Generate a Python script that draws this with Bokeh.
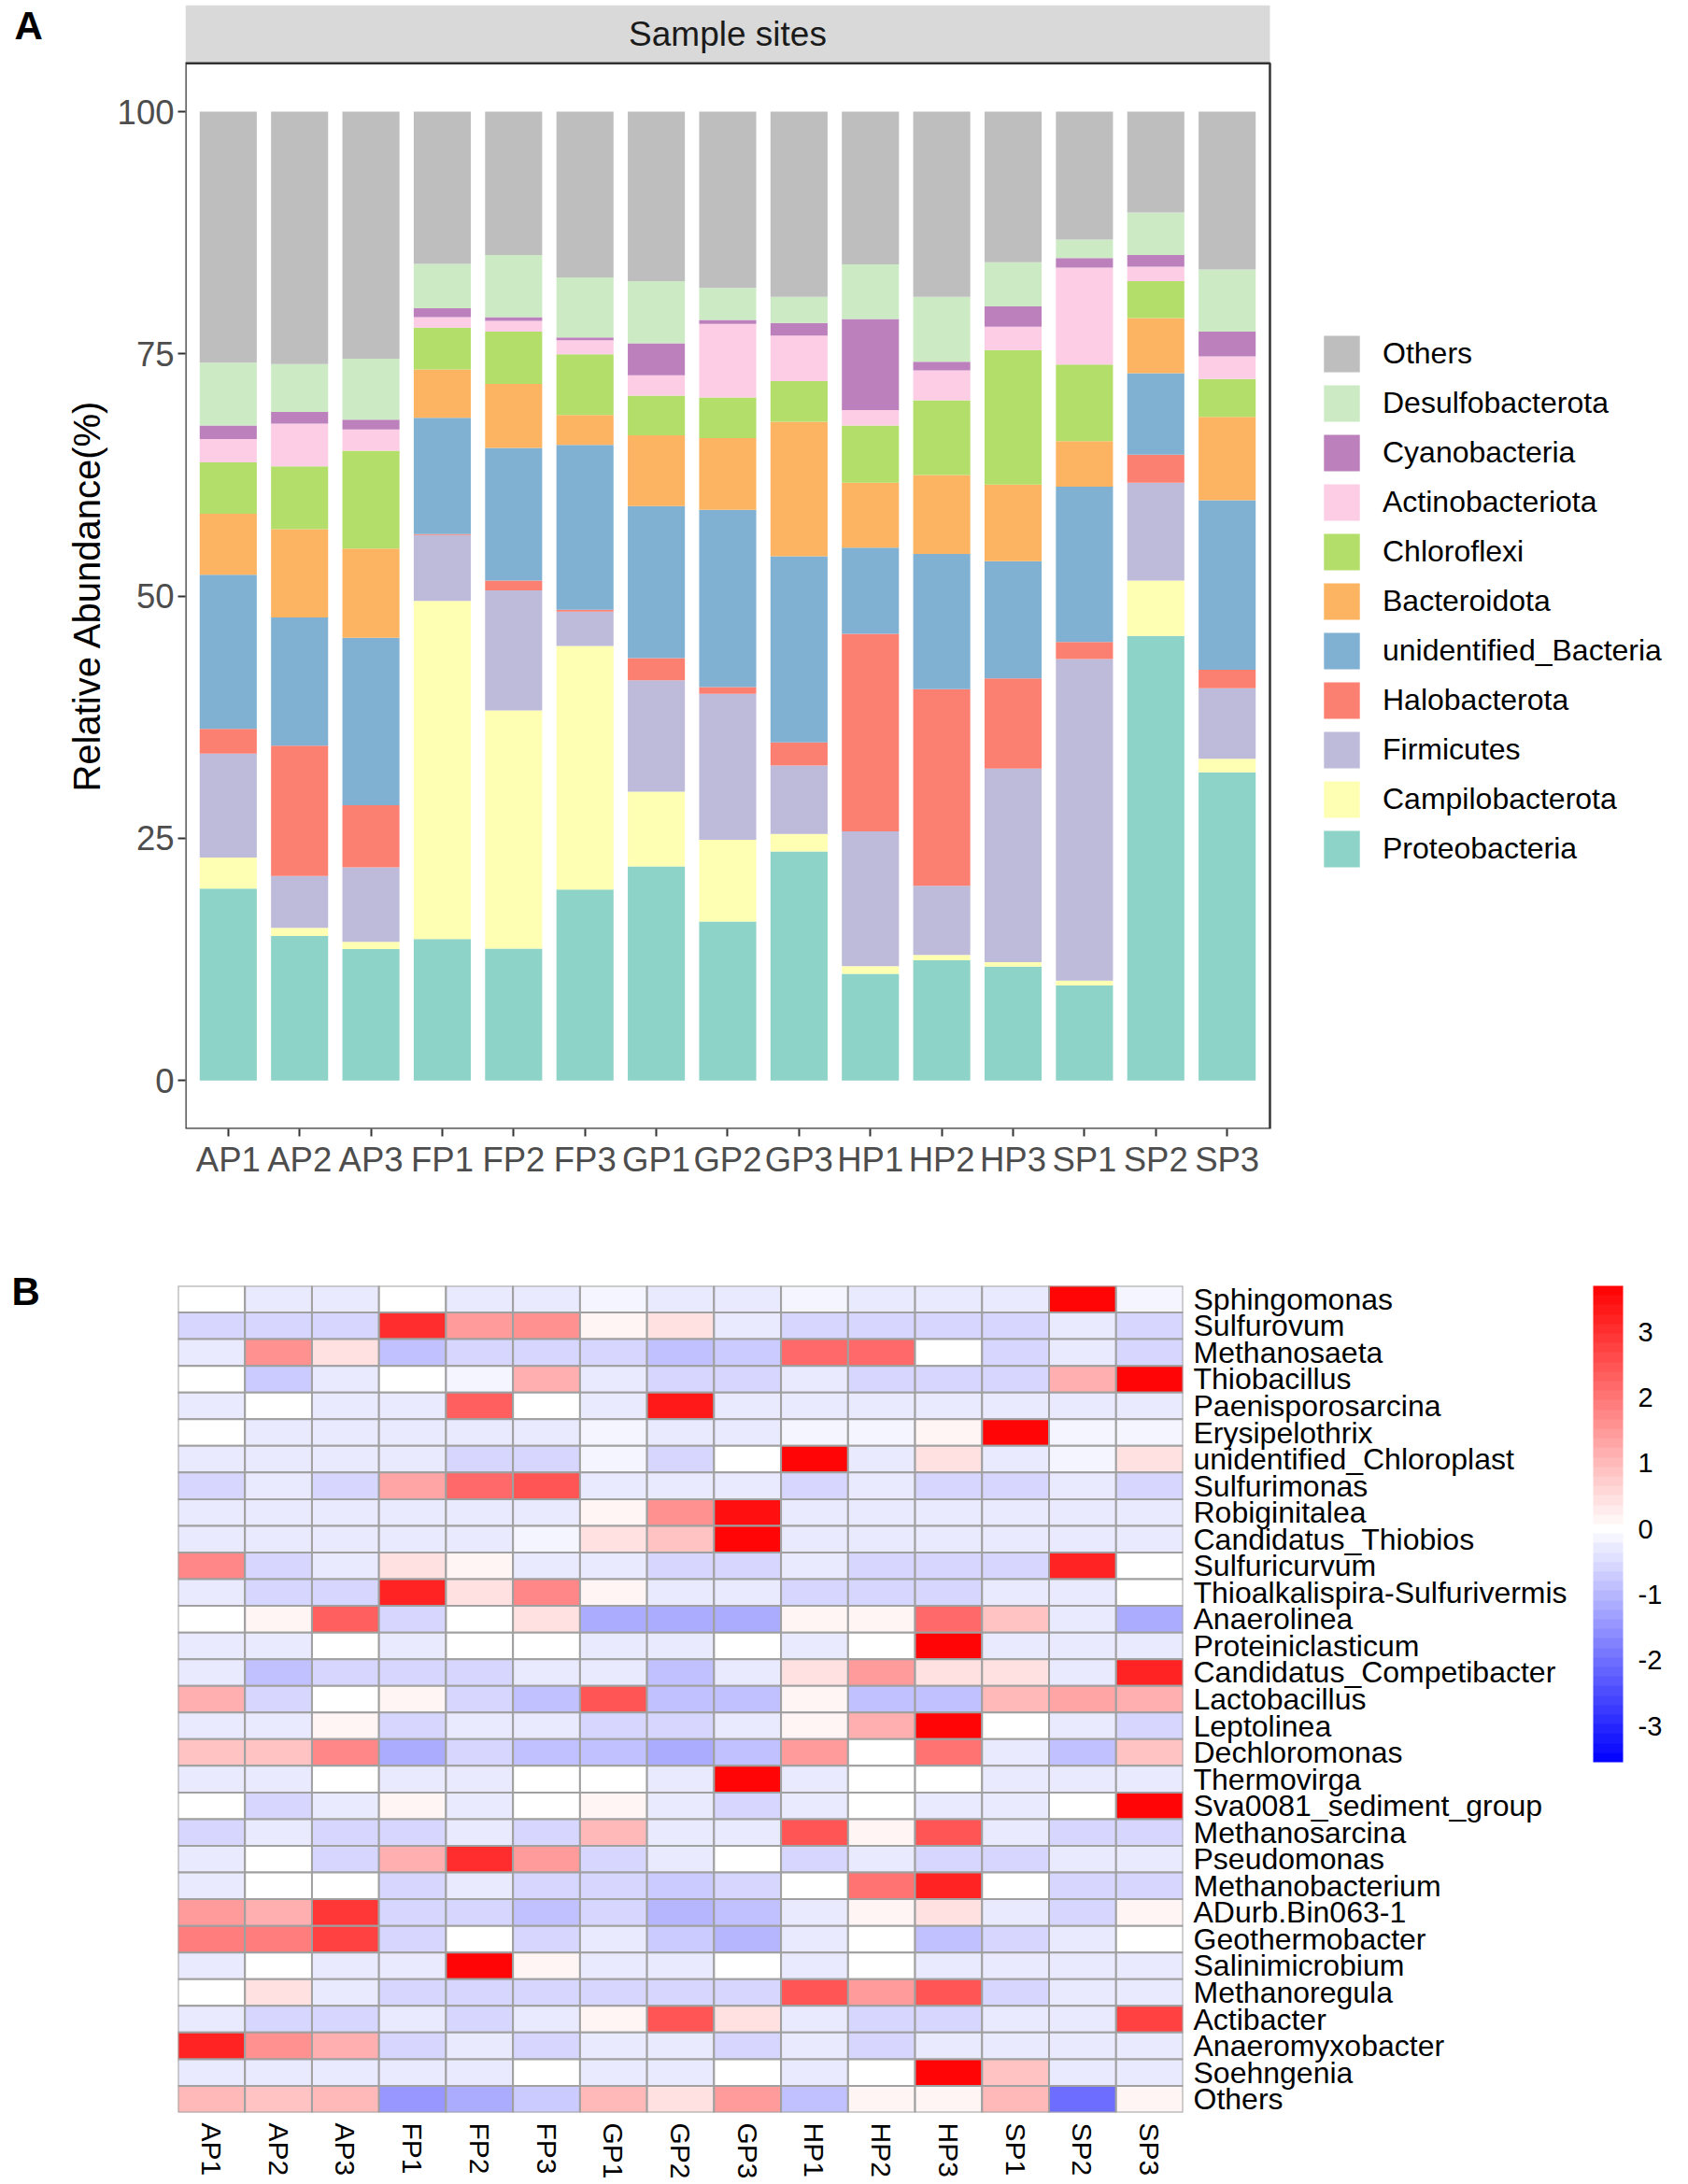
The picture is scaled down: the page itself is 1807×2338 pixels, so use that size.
import math
from bokeh.plotting import figure
from bokeh.models import (Range1d, FixedTicker, Legend, LegendItem, BoxAnnotation, Label,
                          ColorBar, LinearColorMapper, FactorRange, ColumnDataSource)
from bokeh.layouts import column, row
from bokeh.embed import file_html
from bokeh.resources import INLINE

FONT = "Liberation Sans"

# ---------------- Panel A data ----------------
samples = ["AP1", "AP2", "AP3", "FP1", "FP2", "FP3", "GP1", "GP2", "GP3",
           "HP1", "HP2", "HP3", "SP1", "SP2", "SP3"]

phyla = ["Proteobacteria", "Campilobacterota", "Firmicutes", "Halobacterota",
         "unidentified_Bacteria", "Bacteroidota", "Chloroflexi", "Actinobacteriota",
         "Cyanobacteria", "Desulfobacterota", "Others"]

Proteobacteria = [19.8, 14.9, 13.55, 14.6, 13.6, 19.7, 22.1, 16.4, 23.65, 11.0, 12.4, 11.75, 9.8, 45.9, 31.8]
Campilobacterota = [3.2, 0.85, 0.75, 34.9, 24.6, 25.15, 7.7, 8.45, 1.8, 0.8, 0.55, 0.45, 0.5, 5.7, 1.4]
Firmicutes = [10.75, 5.35, 7.7, 6.8, 12.4, 3.55, 11.5, 15.05, 7.05, 13.9, 7.15, 20.0, 33.2, 10.1, 7.3]
Halobacterota = [2.55, 13.45, 6.4, 0.1, 1.0, 0.2, 2.3, 0.7, 2.4, 20.4, 20.3, 9.3, 1.75, 2.9, 1.9]
unidentified_Bacteria = [15.9, 13.25, 17.3, 12.0, 13.7, 17.0, 15.7, 18.3, 19.2, 8.9, 13.95, 12.1, 16.05, 8.4, 17.5]
Bacteroidota = [6.3, 9.1, 9.2, 5.0, 6.6, 3.1, 7.3, 7.4, 13.9, 6.7, 8.15, 7.9, 4.7, 5.7, 8.6]
Chloroflexi = [5.3, 6.5, 10.1, 4.3, 5.4, 6.25, 4.1, 4.2, 4.2, 5.9, 7.7, 13.9, 7.9, 3.8, 3.9]
Actinobacteriota = [2.4, 4.4, 2.2, 1.1, 1.1, 1.45, 2.1, 7.6, 4.7, 1.6, 3.1, 2.4, 10.0, 1.5, 2.35]
Cyanobacteria = [1.4, 1.2, 1.0, 0.9, 0.4, 0.3, 3.3, 0.4, 1.3, 9.4, 0.9, 2.1, 1.0, 1.2, 2.55]
Desulfobacterota = [6.5, 4.95, 6.3, 4.6, 6.4, 6.2, 6.4, 3.3, 2.7, 5.65, 6.7, 4.55, 1.9, 4.4, 6.4]
Others = [25.9, 26.05, 25.5, 15.7, 14.8, 17.1, 17.5, 18.2, 19.1, 15.75, 19.1, 15.55, 13.2, 10.4, 16.3]

phylum_colors = ["#8DD3C7", "#FFFFB3", "#BEBADA", "#FB8072", "#80B1D3", "#FDB462",
                 "#B3DE69", "#FCCDE5", "#BC80BD", "#CCEBC5", "#BEBEBE"]

y_ticks = [0, 25, 50, 75, 100]

# ---------------- Panel B data ----------------
genera = ["Sphingomonas", "Sulfurovum", "Methanosaeta", "Thiobacillus", "Paenisporosarcina",
          "Erysipelothrix", "unidentified_Chloroplast", "Sulfurimonas", "Robiginitalea",
          "Candidatus_Thiobios", "Sulfuricurvum", "Thioalkalispira-Sulfurivermis", "Anaerolinea",
          "Proteiniclasticum", "Candidatus_Competibacter", "Lactobacillus", "Leptolinea",
          "Dechloromonas", "Thermovirga", "Sva0081_sediment_group", "Methanosarcina",
          "Pseudomonas", "Methanobacterium", "ADurb.Bin063-1", "Geothermobacter",
          "Salinimicrobium", "Methanoregula", "Actibacter", "Anaeromyxobacter", "Soehngenia",
          "Others"]

z_Sphingomonas = [-0.05, -0.3, -0.3, -0.05, -0.3, -0.3, -0.1, -0.3, -0.3, -0.1, -0.3, -0.3, -0.3, 3.6, -0.1]
z_Sulfurovum = [-0.6, -0.6, -0.6, 3.1, 1.5, 1.55, 0.2, 0.5, -0.3, -0.6, -0.6, -0.6, -0.6, -0.3, -0.6]
z_Methanosaeta = [-0.3, 1.55, 0.5, -0.85, -0.6, -0.6, -0.6, -0.85, -0.65, 2.2, 2.2, -0.05, -0.6, -0.3, -0.6]
z_Thiobacillus = [-0.05, -0.7, -0.3, -0.05, -0.1, 1.1, -0.3, -0.6, -0.6, -0.3, -0.6, -0.6, -0.6, 1.15, 3.6]
z_Paenisporosarcina = [-0.3, -0.05, -0.3, -0.3, 2.3, -0.05, -0.3, 3.3, -0.3, -0.3, -0.3, -0.3, -0.3, -0.3, -0.3]
z_Erysipelothrix = [-0.05, -0.3, -0.3, -0.3, -0.3, -0.3, -0.1, -0.3, -0.3, -0.1, -0.1, 0.15, 3.6, -0.1, -0.1]
z_unidentified_Chloroplast = [-0.3, -0.3, -0.3, -0.3, -0.6, -0.6, -0.1, -0.6, -0.05, 3.6, -0.3, 0.5, -0.3, -0.1, 0.5]
z_Sulfurimonas = [-0.6, -0.3, -0.6, 1.3, 2.2, 2.5, -0.3, -0.3, -0.3, -0.6, -0.3, -0.6, -0.6, -0.3, -0.6]
z_Robiginitalea = [-0.3, -0.3, -0.3, -0.3, -0.3, -0.3, 0.15, 1.55, 3.5, -0.3, -0.3, -0.3, -0.3, -0.3, -0.3]
z_Candidatus_Thiobios = [-0.3, -0.3, -0.3, -0.3, -0.3, -0.1, 0.5, 0.85, 3.6, -0.3, -0.3, -0.3, -0.3, -0.3, -0.3]
z_Sulfuricurvum = [1.7, -0.6, -0.3, 0.5, 0.2, -0.3, -0.3, -0.6, -0.6, -0.3, -0.6, -0.6, -0.6, 3.2, -0.05]
z_Thioalkalispira = [-0.3, -0.6, -0.6, 3.2, 0.5, 1.7, 0.2, -0.3, -0.3, -0.6, -0.6, -0.6, -0.3, -0.3, -0.05]
z_Anaerolinea = [-0.05, 0.2, 2.3, -0.6, -0.05, 0.5, -1.1, -1.1, -1.1, 0.2, 0.2, 2.2, 0.85, -0.3, -1.1]
z_Proteiniclasticum = [-0.3, -0.3, -0.05, -0.3, -0.05, -0.05, -0.3, -0.3, -0.05, -0.3, -0.05, 3.6, -0.3, -0.3, -0.3]
z_Candidatus_Competibacter = [-0.3, -0.85, -0.6, -0.6, -0.6, -0.3, -0.3, -0.85, -0.3, 0.5, 1.45, 0.5, 0.5, -0.3, 3.2]
z_Lactobacillus = [1.2, -0.6, -0.05, 0.15, -0.6, -0.85, 2.5, -0.85, -0.85, 0.15, -0.85, -0.85, 1.0, 1.3, 1.1]
z_Leptolinea = [-0.3, -0.3, 0.15, -0.6, -0.3, -0.3, -0.6, -0.6, -0.3, 0.15, 1.1, 3.6, -0.05, -0.3, -0.6]
z_Dechloromonas = [0.8, 0.8, 1.7, -1.15, -0.6, -0.85, -0.85, -1.1, -0.85, 1.45, -0.05, 2.0, -0.3, -0.85, 0.85]
z_Thermovirga = [-0.3, -0.3, -0.05, -0.3, -0.3, -0.05, -0.05, -0.3, 3.6, -0.3, -0.05, -0.05, -0.3, -0.3, -0.3]
z_Sva0081 = [-0.05, -0.6, -0.3, 0.15, -0.3, -0.05, 0.15, -0.3, -0.6, -0.3, -0.05, -0.3, -0.3, -0.05, 3.6]
z_Methanosarcina = [-0.6, -0.3, -0.6, -0.6, -0.3, -0.6, 1.0, -0.3, -0.3, 2.5, 0.15, 2.5, -0.3, -0.6, -0.6]
z_Pseudomonas = [-0.3, -0.05, -0.6, 1.15, 3.1, 1.5, -0.6, -0.3, -0.05, -0.6, -0.3, -0.6, -0.6, -0.3, -0.3]
z_Methanobacterium = [-0.3, -0.05, -0.05, -0.6, -0.3, -0.6, -0.6, -0.7, -0.6, -0.05, 2.0, 3.2, -0.05, -0.6, -0.6]
z_ADurb = [1.45, 1.2, 2.9, -0.6, -0.6, -0.85, -0.6, -1.0, -0.9, -0.3, 0.15, 0.45, -0.3, -0.6, 0.15]
z_Geothermobacter = [1.85, 1.85, 2.75, -0.6, -0.05, -0.6, -0.3, -0.7, -0.95, -0.3, -0.05, -0.9, -0.6, -0.3, -0.05]
z_Salinimicrobium = [-0.3, -0.05, -0.3, -0.3, 3.6, 0.15, -0.3, -0.3, -0.05, -0.3, -0.05, -0.3, -0.3, -0.3, -0.3]
z_Methanoregula = [-0.05, 0.5, -0.3, -0.6, -0.6, -0.6, -0.6, -0.6, -0.6, 2.5, 1.4, 2.5, -0.6, -0.3, -0.3]
z_Actibacter = [-0.3, -0.6, -0.6, -0.3, -0.6, -0.3, 0.15, 2.5, 0.5, -0.3, -0.6, -0.6, -0.3, -0.3, 2.75]
z_Anaeromyxobacter = [3.2, 1.55, 1.1, -0.6, -0.3, -0.6, -0.3, -0.3, -0.6, -0.3, -0.6, -0.3, -0.3, -0.3, -0.3]
z_Soehngenia = [-0.3, -0.3, -0.3, -0.3, -0.3, -0.05, -0.3, -0.3, -0.05, -0.3, -0.05, 3.6, 0.85, -0.3, -0.3]
z_Others = [0.95, 0.8, 1.0, -1.4, -1.1, -0.7, 1.0, 0.5, 1.4, -0.9, 0.15, 0.15, 1.0, -2.05, 0.15]

z_rows = [z_Sphingomonas, z_Sulfurovum, z_Methanosaeta, z_Thiobacillus, z_Paenisporosarcina,
          z_Erysipelothrix, z_unidentified_Chloroplast, z_Sulfurimonas, z_Robiginitalea,
          z_Candidatus_Thiobios, z_Sulfuricurvum, z_Thioalkalispira, z_Anaerolinea,
          z_Proteiniclasticum, z_Candidatus_Competibacter, z_Lactobacillus, z_Leptolinea,
          z_Dechloromonas, z_Thermovirga, z_Sva0081, z_Methanosarcina, z_Pseudomonas,
          z_Methanobacterium, z_ADurb, z_Geothermobacter, z_Salinimicrobium, z_Methanoregula,
          z_Actibacter, z_Anaeromyxobacter, z_Soehngenia, z_Others]

cbar_ticks = [-3, -2, -1, 0, 1, 2, 3]
z_low, z_high = -3.55, 3.7

HA, HB = 1300, 1036          # heights of panel A / panel B rows


def side_fig(w, h):
    f = figure(width=w, height=h, x_range=Range1d(0, w), y_range=Range1d(h, 0),
               output_backend="svg", toolbar_location=None, title=None,
               x_axis_location=None, y_axis_location=None,
               min_border=0, frame_align=False)
    f.grid.visible = False
    f.outline_line_color = None
    return f


# left strip of panel A: panel letter and y-axis title (centred on the panel, not the strip)
la = side_fig(120, HA)
la.add_layout(Label(x=15, y=27, text="A", text_align="left", text_baseline="middle",
                    text_font=FONT, text_font_size="42px", text_font_style="bold",
                    text_color="black"))
la.add_layout(Label(x=92, y=637, text="Relative Abundance(%)", angle=math.pi / 2,
                    text_align="center", text_baseline="middle", text_font=FONT,
                    text_font_size="40px", text_color="black"))

# ================= Panel A =================
pa = figure(width=1680, height=HA, output_backend="svg", toolbar_location=None, title=None,
            x_range=Range1d(0.4, 21.374), y_range=Range1d(-5.0, 111.0), frame_align=False,
            min_border_left=78, min_border_right=0, min_border_top=5, min_border_bottom=92)
pa.outline_line_color = None
pa.grid.visible = False

src = ColumnDataSource(dict(x=list(range(1, len(samples) + 1)),
                            Proteobacteria=Proteobacteria, Campilobacterota=Campilobacterota,
                            Firmicutes=Firmicutes, Halobacterota=Halobacterota,
                            unidentified_Bacteria=unidentified_Bacteria, Bacteroidota=Bacteroidota,
                            Chloroflexi=Chloroflexi, Actinobacteriota=Actinobacteriota,
                            Cyanobacteria=Cyanobacteria, Desulfobacterota=Desulfobacterota,
                            Others=Others))
rends = pa.vbar_stack(stackers=phyla, x="x", width=0.8, color=phylum_colors,
                      source=src, line_color=None)

pa.add_layout(BoxAnnotation(bottom=105, right=15.6, fill_color="#D9D9D9", fill_alpha=1.0,
                            line_color=None, level="underlay"))
pa.add_layout(BoxAnnotation(top=105, right=15.6, fill_color=None, fill_alpha=0,
                            line_color="#333333", line_width=2.5, line_alpha=1.0))
pa.add_layout(Label(x=8.0, y=108.0, text="Sample sites", text_align="center",
                    text_baseline="middle", text_font=FONT, text_font_size="37px",
                    text_color="#1A1A1A"))

items = [LegendItem(label=name, renderers=[r]) for name, r in zip(phyla, rends)][::-1]
leg = Legend(items=items, location=(1214, 275), glyph_width=48, glyph_height=49,
             spacing=4, padding=0, margin=0, label_standoff=20,
             label_text_font=FONT, label_text_font_size="32px", label_text_color="black",
             border_line_color=None, background_fill_alpha=0)
pa.add_layout(leg, "center")

xa = pa.xaxis[0]
xa.ticker = FixedTicker(ticks=list(range(1, len(samples) + 1)))
xa.major_label_overrides = {i + 1: s for i, s in enumerate(samples)}
ya = pa.yaxis[0]
ya.ticker = FixedTicker(ticks=y_ticks)
for ax in (xa, ya):
    ax.axis_line_color = None
    ax.minor_tick_line_color = None
    ax.major_tick_in = 0
    ax.major_tick_out = 8
    ax.major_tick_line_color = "#333333"
    ax.major_tick_line_width = 2
    ax.major_label_text_font = FONT
    ax.major_label_text_font_size = "36.5px"
    ax.major_label_text_color = "#4D4D4D"
    ax.major_label_standoff = 4

# ================= Panel B =================
def blend(v):
    if v < 0:
        t = (v - z_low) / (0 - z_low)
        c = int(round(255 * t))
        return "#%02x%02x%02x" % (c, c, 255)
    s = v / z_high
    c = int(round(255 * (1 - s)))
    return "#%02x%02x%02x" % (255, c, c)

nbins = 50
palette = [blend(z_low + (i + 0.5) * (z_high - z_low) / nbins) for i in range(nbins)]
mapper = LinearColorMapper(palette=palette, low=z_low, high=z_high)

cell_x, cell_y, cell_z = [], [], []
for g, r in zip(genera, z_rows):
    for s, z in zip(samples, r):
        cell_x.append(s)
        cell_y.append(g)
        cell_z.append(z)
hsrc = ColumnDataSource(dict(sample=cell_x, genus=cell_y, z=cell_z))

lb = side_fig(56, HB)
lb.add_layout(Label(x=12, y=82, text="B", text_align="left", text_baseline="middle",
                    text_font=FONT, text_font_size="42px", text_font_style="bold",
                    text_color="black"))

pb = figure(width=1744, height=HB, output_backend="svg", toolbar_location=None, title=None,
            x_range=FactorRange(*samples), y_range=FactorRange(*genera[::-1]),
            y_axis_location="right", frame_align=False,
            min_border_left=134, min_border_right=534, min_border_top=76, min_border_bottom=75)
pb.outline_line_color = None
pb.grid.visible = False
pb.rect(x="sample", y="genus", width=1, height=1, source=hsrc,
        fill_color={"field": "z", "transform": mapper}, line_color="#A0A0A0", line_width=2)

bx = pb.xaxis[0]
bx.major_label_orientation = -math.pi / 2
bx.major_label_text_font_size = "30px"
bx.major_label_standoff = 11
by = pb.yaxis[0]
by.major_label_text_font_size = "32px"
by.major_label_standoff = 11
for ax in (bx, by):
    ax.axis_line_color = None
    ax.major_tick_line_color = None
    ax.minor_tick_line_color = None
    ax.major_tick_in = 0
    ax.major_tick_out = 0
    ax.major_label_text_font = FONT
    ax.major_label_text_color = "black"

cb = ColorBar(color_mapper=mapper, location=(1515, 375), width=32, height=510,
              padding=0, margin=0, ticker=FixedTicker(ticks=cbar_ticks),
              major_label_overrides={t: str(t) for t in cbar_ticks},
              major_label_text_font=FONT, major_label_text_font_size="29px",
              major_label_text_color="black", label_standoff=16,
              major_tick_line_color=None, minor_tick_line_color=None,
              bar_line_color=None, border_line_color=None, background_fill_alpha=0)
pb.add_layout(cb, "center")

layout = column(row(la, pa, spacing=0), row(lb, pb, spacing=0), spacing=0)
open("out.html", "w").write(file_html(layout, INLINE))
